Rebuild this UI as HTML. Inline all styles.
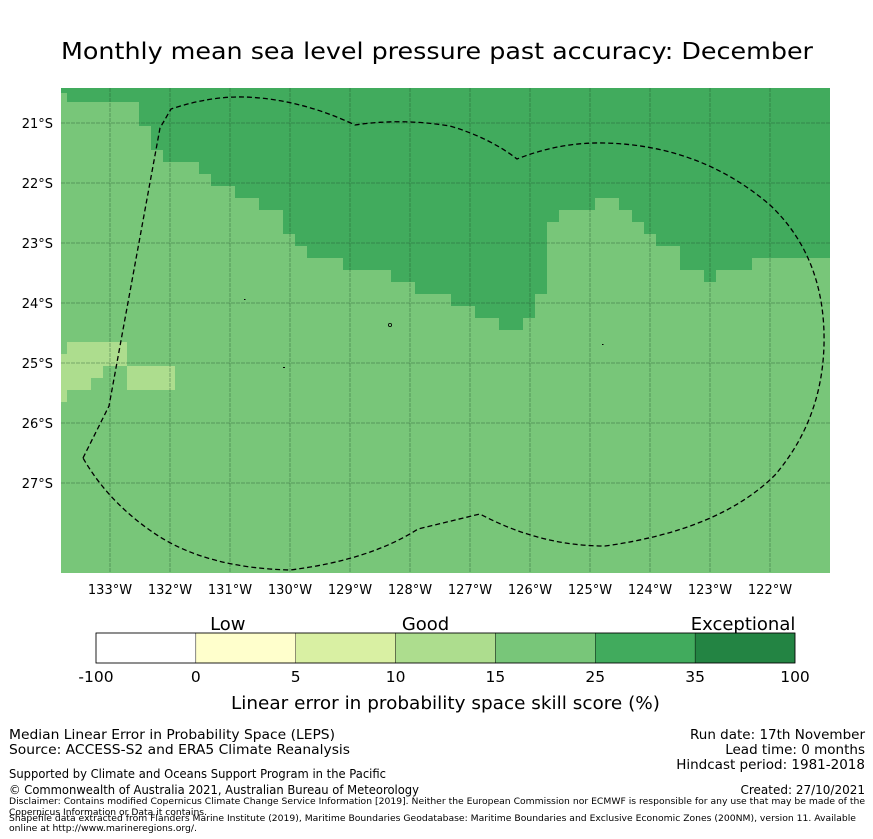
<!DOCTYPE html>
<html><head><meta charset="utf-8">
<style>
html,body{margin:0;padding:0;background:#fff;}
svg{display:block;font-family:"DejaVu Sans","Liberation Sans",sans-serif;}
</style></head>
<body>
<svg id="fig" width="873" height="839" viewBox="0 0 873 839" xmlns="http://www.w3.org/2000/svg">
<rect x="0" y="0" width="873" height="839" fill="#fff"/>
<text x="61" y="59" font-size="23" textLength="752" lengthAdjust="spacingAndGlyphs" fill="#000">Monthly mean sea level pressure past accuracy: December</text>
<defs><clipPath id="mapclip"><rect x="61" y="88" width="769" height="485"/></clipPath></defs>
<g id="map" clip-path="url(#mapclip)">
<rect x="61" y="88" width="769" height="485" fill="#78c679"/>
<polygon fill="#41ab5d" points="67,88 830,88 830,258 752,258 752,270 716,270 716,282 704,282 704,270 680,270 680,246 656,246 656,234 644,234 644,222 632,222 632,210 619,210 619,198 595,198 595,210 559,210 559,222 547,222 547,294 535,294 535,318 523,318 523,330 499,330 499,318 475,318 475,306 451,306 451,294 415,294 415,282 391,282 391,270 343,270 343,258 307,258 307,246 295,246 295,234 283,234 283,210 259,210 259,198 235,198 235,186 211,186 211,174 199,174 199,162 163,162 163,150 151,150 151,126 139,126 139,102 67,102 67,93 61,93 61,88"/>
<g fill="#addd8e">
<rect x="67" y="342" width="60" height="12"/><rect x="61" y="354" width="66" height="12"/>
<rect x="61" y="366" width="42" height="12"/><rect x="127" y="366" width="48" height="24"/>
<rect x="61" y="378" width="30" height="12"/><rect x="61" y="390" width="6" height="12"/>
</g>
<g id="grid" stroke="#1e4d2b" stroke-opacity="0.5" stroke-width="0.8" stroke-dasharray="4,1"></g>
<path fill="none" stroke="#000" stroke-width="1.3" stroke-dasharray="5,3"
d="M83,458 L109,406 L160,128 L171,109 Q210,96 245,97 Q300,99 355,125 Q400,118 450,126 Q490,138 517,159 Q560,142 604,143 Q700,145 770,205 Q826,258 824,345 Q822,420 775,475 Q720,530 605,546 Q540,546 480,514 L418,529 Q370,560 290,570 Q210,568 160,537 Q110,505 83,458 Z"/>
<g fill="#000">
<rect x="244" y="299" width="1.5" height="1"/><circle cx="390" cy="325" r="1.6" fill="none" stroke="#000" stroke-width="0.8"/>
<rect x="283" y="367" width="2" height="1"/><rect x="602" y="344" width="1.5" height="1"/>
</g>
</g>
<g id="axes" font-size="13" fill="#000"></g>
<g id="cbar"></g>
<text x="231" y="709" font-size="18" textLength="429" lengthAdjust="spacingAndGlyphs">Linear error in probability space skill score (%)</text>
<g fill="#000">
<text x="9" y="739" font-size="13.5" textLength="326" lengthAdjust="spacingAndGlyphs">Median Linear Error in Probability Space (LEPS)</text>
<text x="9" y="754" font-size="13.5" textLength="341" lengthAdjust="spacingAndGlyphs">Source: ACCESS-S2 and ERA5 Climate Reanalysis</text>
<text x="9" y="778" font-size="12" textLength="377" lengthAdjust="spacingAndGlyphs">Supported by Climate and Oceans Support Program in the Pacific</text>
<text x="9" y="794" font-size="12" textLength="410" lengthAdjust="spacingAndGlyphs">© Commonwealth of Australia 2021, Australian Bureau of Meteorology</text>
<text x="9" y="804" font-size="8.5" textLength="856" lengthAdjust="spacingAndGlyphs">Disclaimer: Contains modified Copernicus Climate Change Service Information [2019]. Neither the European Commission nor ECMWF is responsible for any use that may be made of the</text>
<text x="9" y="815" font-size="8.5" textLength="198" lengthAdjust="spacingAndGlyphs">Copernicus Information or Data it contains.</text>
<text x="9" y="821" font-size="8.5" textLength="847" lengthAdjust="spacingAndGlyphs">Shapefile data extracted from Flanders Marine Institute (2019), Maritime Boundaries Geodatabase: Maritime Boundaries and Exclusive Economic Zones (200NM), version 11. Available</text>
<text x="9" y="831" font-size="8.5" textLength="188" lengthAdjust="spacingAndGlyphs">online at http://www.marineregions.org/.</text>
<text x="865" y="739" font-size="13.5" text-anchor="end">Run date: 17th November</text>
<text x="865" y="754" font-size="13.5" text-anchor="end">Lead time: 0 months</text>
<text x="865" y="769" font-size="13.5" text-anchor="end">Hindcast period: 1981-2018</text>
<text x="865" y="794" font-size="12" text-anchor="end">Created: 27/10/2021</text>
</g>
</svg>
<script>
const lonTicks = [-133,-132,-131,-130,-129,-128,-127,-126,-125,-124,-123,-122];
const latTicks = [-21,-22,-23,-24,-25,-26,-27];
const cbarBounds = [-100,0,5,10,15,25,35,100];
const cbarColors = ['#ffffff','#ffffcc','#d9f0a3','#addd8e','#78c679','#41ab5d','#238443'];
const cbarCategories = ['Low','Good','Exceptional'];
const cbarCategoryPos = [1.32,3.30,6.48];

const NS='http://www.w3.org/2000/svg';
function xLon(lon){return 110+(lon+133)*60;}
function yLat(lat){return 123+(-21-lat)*60;}
function mk(tag,attrs,parent){const e=document.createElementNS(NS,tag);for(const k in attrs)e.setAttribute(k,attrs[k]);parent.appendChild(e);return e;}
const grid=document.getElementById('grid'), axes=document.getElementById('axes');
lonTicks.forEach(lon=>{
  const x=xLon(lon);
  const l=mk('line',{x1:x,y1:88,x2:x,y2:573},grid);
  
  
  const t=mk('text',{x:x,y:594,'text-anchor':'middle'},axes);
  
  
  t.textContent=Math.abs(lon)+'°W';
});
latTicks.forEach(lat=>{
  const y=yLat(lat);
  const l=mk('line',{x1:61,y1:y,x2:830,y2:y},grid);
  
  
  const t=mk('text',{x:53,y:y+5,'text-anchor':'end'},axes);
  
  
  t.textContent=Math.abs(lat)+'°S';
});
const cb=document.getElementById('cbar');
const cx0=96,cw=699,cy=633,ch=30,n=cbarColors.length;
function xCb(i){return cx0+i*cw/n;}
cbarColors.forEach((c,i)=>{
  const r=mk('rect',{x:xCb(i),y:cy,width:cw/n,height:ch,fill:c,stroke:'#000','stroke-width':0.4},cb);
  
  
});
mk('rect',{x:cx0,y:cy,width:cw,height:ch,fill:'none',stroke:'#000','stroke-width':0.8},cb);
cbarBounds.forEach((b,i)=>{
  const t=mk('text',{x:xCb(i),y:682,'text-anchor':'middle','font-size':15.5},cb);
  
  
  t.textContent=b;
});
cbarCategories.forEach((c,i)=>{
  const t=mk('text',{x:xCb(cbarCategoryPos[i]),y:630,'text-anchor':'middle','font-size':18},cb);
  
  
  t.textContent=c;
});
</script>
</body></html>
